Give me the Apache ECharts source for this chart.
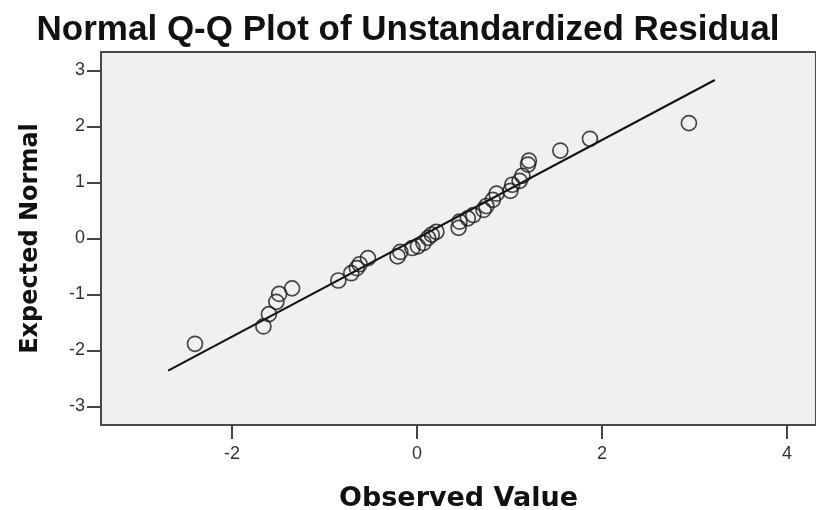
<!DOCTYPE html>
<html>
<head>
<meta charset="utf-8">
<script src="https://cdn.jsdelivr.net/npm/echarts@6/dist/echarts.min.js"></script>
<style>html,body{margin:0;padding:0;background:#fff}#c{width:816px;height:510px}</style>
</head>
<body>
<div id="c"></div>
<script>
// Observed residuals (x) and expected normal values (y)
var observed = [-2.40,-1.66,-1.60,-1.52,-1.49,-1.35,-0.85,-0.71,-0.65,-0.62,-0.53,-0.21,-0.18,-0.05,0.01,0.07,0.12,0.16,0.21,0.45,0.46,0.55,0.61,0.72,0.75,0.82,0.86,1.01,1.03,1.11,1.14,1.20,1.21,1.55,1.87,2.94];
var expected = [-1.88,-1.57,-1.35,-1.13,-0.99,-0.89,-0.75,-0.62,-0.53,-0.46,-0.35,-0.32,-0.24,-0.17,-0.14,-0.08,0.01,0.07,0.12,0.19,0.30,0.36,0.42,0.51,0.58,0.69,0.80,0.85,0.96,1.03,1.12,1.32,1.39,1.57,1.78,2.06];
// Reference line end points
var lineX = [-2.69, 3.22];
var lineY = [-2.36, 2.83];
// Tick labels
var xTicks = [-2, 0, 2, 4];
var yTicks = [-3, -2, -1, 0, 1, 2, 3];

var pts = observed.map(function(v, i){ return [v, expected[i]]; });
var linePts = lineX.map(function(v, i){ return [v, lineY[i]]; });

var chart = echarts.init(document.getElementById('c'), null, {renderer:'canvas'});
chart.setOption({
  animation: false,
  backgroundColor: '#ffffff',
  title: {
    text: 'Normal Q-Q Plot of Unstandardized Residual',
    left: 'center', top: 8,
    textStyle: {fontFamily: 'Liberation Sans', fontWeight: 'bold', fontSize: 35, color: '#111'}
  },
  grid: {
    left: 101, top: 52, right: 0, height: 373,
    outerBoundsMode: 'none', containLabel: false,
    show: true, backgroundColor: '#f0f0f0', borderColor: '#4a4a4a', borderWidth: 2
  },
  xAxis: {
    type: 'value', min: -3.416, max: 4.314,
    name: 'Observed Value', nameLocation: 'middle', nameGap: 60,
    nameTextStyle: {fontFamily: 'DejaVu Sans', fontWeight: 'bold', fontSize: 27, color: '#111'},
    axisLine: {show: true, onZero: false, lineStyle: {color: '#4a4a4a', width: 2}},
    splitLine: {show: false},
    axisTick: {show: true, customValues: xTicks, length: 14, lineStyle: {color: '#444', width: 2}},
    axisLabel: {customValues: xTicks, margin: 20, fontFamily: 'Liberation Sans', fontSize: 18, color: '#333'}
  },
  yAxis: {
    type: 'value', min: -3.33, max: 3.33,
    name: 'Expected Normal', nameLocation: 'middle', nameGap: 58, nameRotate: 90,
    nameTextStyle: {fontFamily: 'DejaVu Sans', fontWeight: 'bold', fontSize: 24, color: '#111'},
    axisLine: {show: true, onZero: false, lineStyle: {color: '#4a4a4a', width: 2}},
    splitLine: {show: false},
    axisTick: {show: true, customValues: yTicks, length: 14, lineStyle: {color: '#444', width: 2}},
    axisLabel: {customValues: yTicks, margin: 16, fontFamily: 'Liberation Sans', fontSize: 18, color: '#333'}
  },
  series: [
    {
      type: 'line', data: linePts, showSymbol: false, symbol: 'none',
      lineStyle: {color: '#111', width: 2}, silent: true, z: 2
    },
    {
      type: 'scatter', data: pts, symbol: 'circle', symbolSize: 15,
      itemStyle: {color: 'rgba(0,0,0,0)', borderColor: '#1a1a1a', borderWidth: 1.7}, z: 3
    }
  ]
});
</script>
</body>
</html>
